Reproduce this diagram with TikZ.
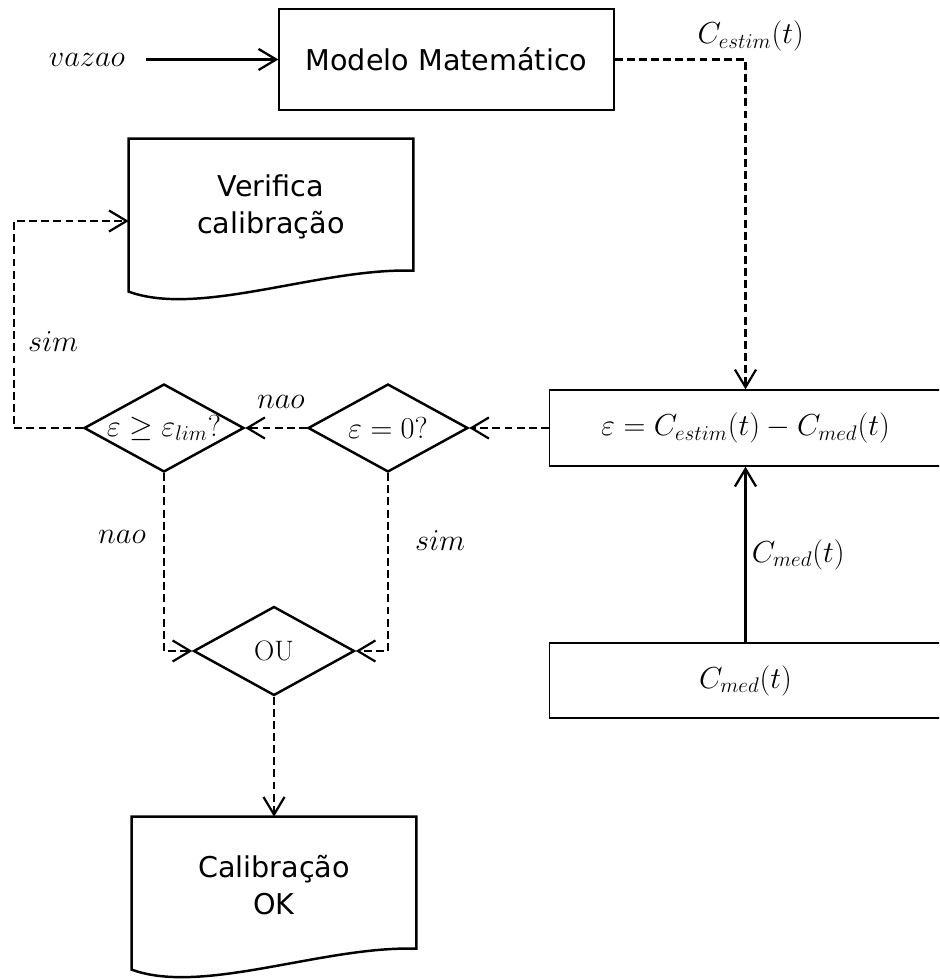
\documentclass[tikz,border=0pt]{standalone}
\usepackage{amsmath}
\usepackage{fontspec}
\newfontfamily\flowsans{DejaVu Sans}
\newcommand{\flowmath}{\fontsize{17.5}{20}\selectfont}
\usetikzlibrary{arrows.meta,shapes.geometric}

\begin{document}
\begin{tikzpicture}[x=0.02cm, y=-0.02cm,
  tip/.style={-{Straight Barb[length=10pt,width=12pt]}},
  arrow/.style={tip, line width=1.3pt},
  dflow/.style={tip, line width=1.25pt, dash pattern=on 4.5pt off 2.4pt},
  box/.style={draw, line width=0.8pt, inner sep=0pt, font=\flowmath},
  decision/.style={diamond, draw, line width=1.4pt, inner sep=0pt, shape aspect=1.82,
    minimum width=3.2cm, minimum height=1.76cm, font=\flowmath},
  doc/.style={inner sep=0pt, minimum width=5.68cm, minimum height=2.72cm, align=center,
    font=\flowsans\fontsize{16.3}{21}\selectfont},
  lbl/.style={inner sep=2pt, font=\flowmath}]
  % Calibration loop

  \useasboundingbox (0,0) rectangle (939,979);
  \clip (0,0) rectangle (939,979);

  % Model
  \node[box, font=\flowsans\fontsize{16.3}{20}\selectfont, minimum width=6.7cm, minimum height=2.02cm] (modelo) at (446.5,59.5) {Modelo Matemático};
  \node[lbl] (vazao) at (87,59.5) {$vazao$};
  \draw[arrow, shorten <=10pt] (vazao) -- (modelo);

  % Error and measured data
  \node[box, minimum width=7.84cm, minimum height=1.52cm] (erro) at (745.5,428) {$\varepsilon = C_{estim}(t) - C_{med}(t)$};
  \node[box, minimum width=7.84cm, minimum height=1.5cm] (medida) at (745.5,680.5) {$C_{med}(t)$};

  % Decisions
  \node[decision] (dec0) at (388,428) {$\varepsilon = 0?$};
  \node[decision] (declim) at (164,428) {\makebox[0pt]{$\varepsilon \geq \varepsilon_{lim}?$}};
  \node[decision, font=\fontsize{16}{18}\selectfont, minimum width=3.22cm, minimum height=1.78cm] (ou) at (274,651) {OU};

  % Documents
  \node[doc] (verif) at (271,207) {Verifica\\calibração};
  \node[doc] (calok) at (274,885) {Calibração\\OK};
  \draw[line width=1.4pt] (verif.north west) -- (verif.north east) -- ++(0,132)
    .. controls +(-93,-3) and +(71,26) .. ([yshift=-3.06cm]verif.north west) -- cycle;
  \draw[line width=1.4pt] (calok.north west) -- (calok.north east) -- ++(0,132)
    .. controls +(-93,-3) and +(71,26) .. ([yshift=-3.06cm]calok.north west) -- cycle;

  % Connectors
  \draw[dflow] (modelo) -| (erro) node[lbl, pos=0.5, above=2pt, xshift=3pt] (cestim) {$C_{estim}(t)$};
  \draw[arrow] (medida) -- (erro) node[lbl, midway, right=1pt] (cmed) {$C_{med}(t)$};
  \draw[dflow] (erro) -- (dec0);
  \draw[dflow] (dec0) -- (declim) node[lbl, pos=0.42, above=8.5pt] (nao1) {$nao$};
  \coordinate (loop) at (14,221);
  \draw[dflow] (declim) -| (loop) node[lbl, pos=0.71, right=5.4pt] (sim1) {$sim$} -- (loop -| verif.west);
  \draw[dflow] (declim) |- (ou) node[lbl, pos=0.18, left=7.7pt] (nao2) {$nao$};
  \draw[dflow] (dec0) |- (ou) node[lbl, pos=0.19, right=12.8pt] (sim2) {$sim$};
  \draw[dflow] (ou) -- (calok);
\end{tikzpicture}
\end{document}
